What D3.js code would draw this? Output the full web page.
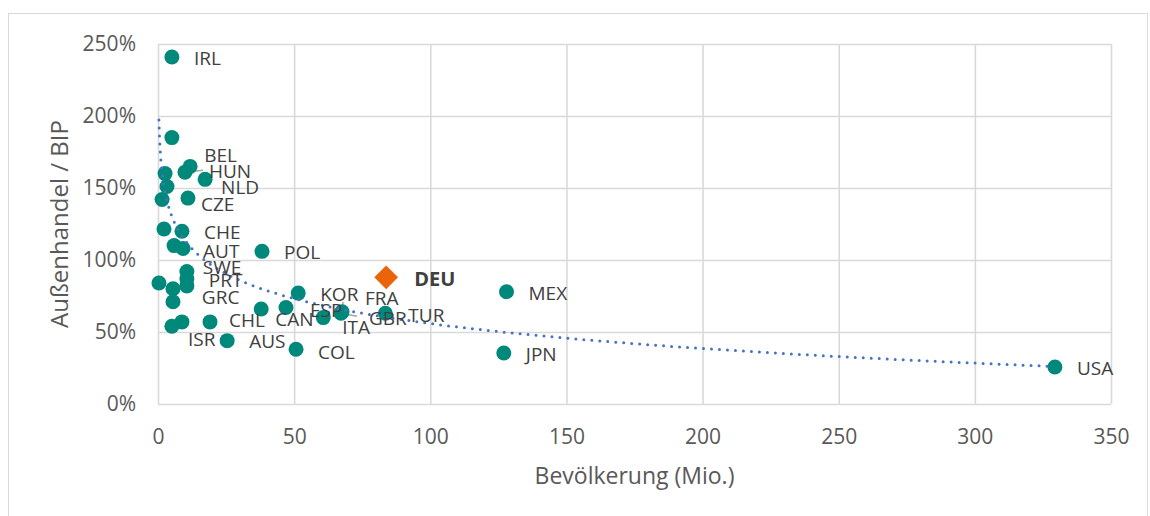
<!DOCTYPE html>
<html>
<head>
<meta charset="utf-8">
<script src="https://cdn.jsdelivr.net/npm/d3@7"></script>
<style>
  body { margin: 0; background: #fff; }
  svg { display: block; font-family: 'Open Sans', sans-serif; }
</style>
</head>
<body>
<script>
'use strict';

// countries (OECD), population in millions, foreign trade as % of GDP
const countries  = ['IRL','SVK','BEL','HUN','NLD','SVN','LTU','EST','CZE','LVA','CHE','DNK','AUT','POL','SWE','PRT','GRC','ISL','FIN','NOR','KOR','CAN','ESP','ITA','FRA','GBR','TUR','CHL','NZL','ISR','AUS','COL','MEX','JPN','USA'];
const population = [5.1, 5.1, 11.8, 9.9, 17.3, 2.6, 3.3, 1.5, 11.0, 2.2, 8.8, 5.9, 9.2, 38.2, 10.6, 10.6, 10.6, 0.35, 5.5, 5.5, 51.5, 37.9, 47.0, 60.7, 67.6, 67.2, 83.5, 19.1, 5.1, 8.8, 25.4, 50.7, 128, 127, 329.4];
const tradeShare = [241, 185, 165, 161, 156, 160, 151, 142, 143, 121.5, 120, 110, 108, 106, 92, 87, 82, 84, 80, 71, 77, 66, 67, 60, 64, 63, 63, 57, 54, 57, 44, 38, 78, 35.4, 25.7];
const hiddenLabels = ['SVK','SVN','LTU','EST','LVA','DNK','ISL','FIN','NOR','NZL'];

// highlighted country
const highlight = { code: 'DEU', population: 83.8, tradeShare: 88 };

// logarithmic trendline as shown in the chart: y = a + b * ln(x)
const trendA = 171;
const trendB = -25;

const xTicks = [0, 50, 100, 150, 200, 250, 300, 350];
const yTicks = [0, 50, 100, 150, 200, 250];
const xTitle = 'Bevölkerung (Mio.)';
const yTitle = 'Außenhandel / BIP';

// label placement (dx, dy from the point), default is right of the point
const labelOffsets = {
  BEL: [14, -11], HUN: [24, -1], NLD: [16, 8], CZE: [13, 6], AUT: [20, 3],
  SWE: [16, -4], GRC: [15, 11], CAN: [14, 10], ESP: [24, 3], ITA: [19, 10],
  FRA: [23, -14], GBR: [28, 5], CHL: [19, -2], ISR: [6, 17], COL: [22, 3], TUR: [23, 2]
};
// leader lines, end point relative to the label anchor
const leaders = { HUN: [-6, -1], GBR: [-12, -2], FRA: [-22, 4] };

const W = 1150, H = 516;
const plot = { left: 158, right: 1111, top: 44, bottom: 404 };

const svg = d3.select('body').append('svg').attr('width', W).attr('height', H);

svg.append('rect')
  .attr('x', 8.5).attr('y', 13.5).attr('width', 1139).attr('height', 520)
  .attr('fill', '#fff').attr('stroke', '#D9D9D9').attr('stroke-width', 1);

const x = d3.scaleLinear().domain([0, 350]).range([plot.left, plot.right]);
const y = d3.scaleLinear().domain([0, 250]).range([plot.bottom, plot.top]);

const xAxis = d3.axisBottom(x).tickValues(xTicks).tickSizeInner(-(plot.bottom - plot.top)).tickSizeOuter(0).tickPadding(25);
const yAxis = d3.axisLeft(y).tickValues(yTicks).tickSizeInner(-(plot.right - plot.left)).tickSizeOuter(0).tickPadding(22).tickFormat(d => d + '%');

const gx = svg.append('g').attr('transform', `translate(0,${plot.bottom})`).call(xAxis);
const gy = svg.append('g').attr('transform', `translate(${plot.left},0)`).call(yAxis);

[gx, gy].forEach(g => {
  g.select('.domain').remove();
  g.selectAll('.tick line').attr('stroke', '#D9D9D9').attr('stroke-width', 1.6);
  g.selectAll('.tick text').attr('fill', '#595959').style('font-size', '21px').style('font-family', "'Open Sans', sans-serif");
});

// axis titles
svg.append('text')
  .attr('x', (plot.left + plot.right) / 2).attr('y', 484)
  .attr('text-anchor', 'middle').attr('fill', '#595959')
  .style('font-size', '23px').text(xTitle);
svg.append('text')
  .attr('transform', `translate(68,${(plot.top + plot.bottom) / 2}) rotate(-90)`)
  .attr('text-anchor', 'middle').attr('fill', '#595959')
  .style('font-size', '24px').text(yTitle);

const data = countries.map((c, i) => ({ code: c, pop: population[i], share: tradeShare[i] }));

const labelled = data.filter(d => !hiddenLabels.includes(d.code));
const labelPos = d => {
  const o = labelOffsets[d.code] || [22, 1];
  return [x(d.pop) + o[0], y(d.share) + o[1]];
};

// leader lines
svg.append('g').selectAll('line')
  .data(labelled.filter(d => leaders[d.code]))
  .join('line')
  .attr('x1', d => x(d.pop)).attr('y1', d => y(d.share))
  .attr('x2', d => labelPos(d)[0] + leaders[d.code][0])
  .attr('y2', d => labelPos(d)[1] + leaders[d.code][1])
  .attr('stroke', '#A6A6A6').attr('stroke-width', 1.5);

// points
svg.append('g').selectAll('circle')
  .data(data)
  .join('circle')
  .attr('cx', d => x(d.pop)).attr('cy', d => y(d.share))
  .attr('r', 7.5).attr('fill', '#00897B');

// trendline over the range of the data, drawn on top of the points
const xMin = d3.min(population), xMax = d3.max(population);
const trend = d3.range(0, 401).map(k => {
  const t = Math.exp(Math.log(xMin) + (Math.log(xMax) - Math.log(xMin)) * k / 400);
  return [t, trendA + trendB * Math.log(t)];
});

svg.append('path')
  .datum(trend)
  .attr('d', d3.line().x(p => x(p[0])).y(p => y(p[1])))
  .attr('fill', 'none').attr('stroke', '#4472C4').attr('stroke-width', 3)
  .attr('stroke-linecap', 'round').attr('stroke-dasharray', '0 8');

// labels
svg.append('g').selectAll('text')
  .data(labelled)
  .join('text')
  .attr('x', d => labelPos(d)[0]).attr('y', d => labelPos(d)[1])
  .attr('dy', '0.36em').attr('fill', '#404040')
  .style('font-size', '19px').text(d => d.code);

// Germany
const hx = x(highlight.population), hy = y(highlight.tradeShare);
svg.append('path')
  .attr('d', d3.symbol().type(d3.symbolDiamond2).size(360)())
  .attr('transform', `translate(${hx},${hy})`)
  .attr('fill', '#EB6409');
svg.append('text')
  .attr('x', hx + 28).attr('y', hy + 2).attr('dy', '0.36em')
  .attr('fill', '#404040').style('font-size', '20px').style('font-weight', 'bold')
  .text(highlight.code);
</script>
</body>
</html>
